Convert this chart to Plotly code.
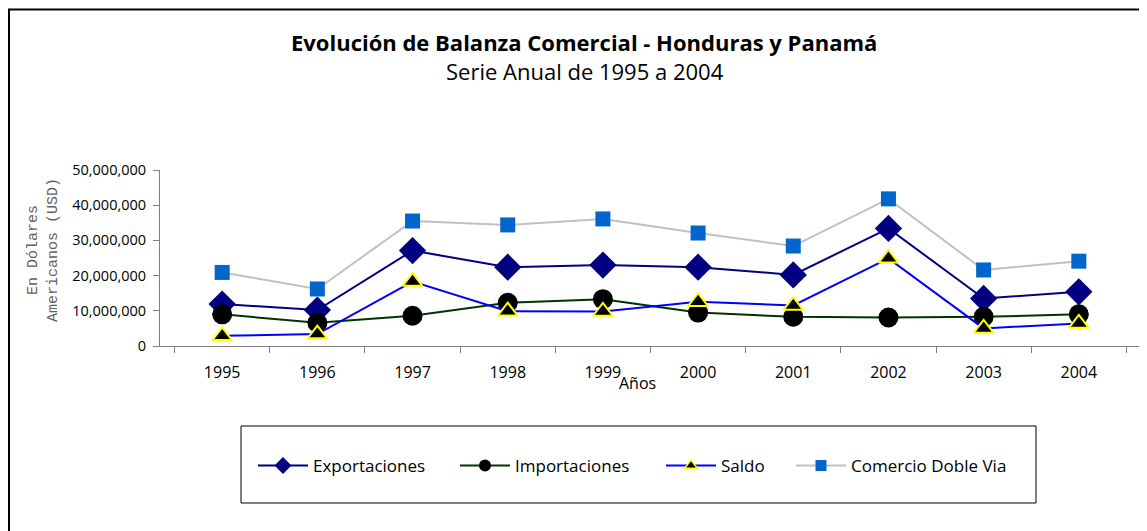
import plotly.graph_objects as go

years = ["1995", "1996", "1997", "1998", "1999", "2000", "2001", "2002", "2003", "2004"]
exportaciones = [11.9e6, 10.2e6, 27.1e6, 22.4e6, 23.0e6, 22.4e6, 20.2e6, 33.4e6, 13.5e6, 15.4e6]
importaciones = [9.0e6, 6.6e6, 8.6e6, 12.3e6, 13.3e6, 9.5e6, 8.3e6, 8.1e6, 8.3e6, 9.0e6]
saldo = [2.9e6, 3.4e6, 18.3e6, 9.9e6, 9.8e6, 12.6e6, 11.5e6, 24.9e6, 5.0e6, 6.4e6]
comercio = [20.9e6, 16.2e6, 35.5e6, 34.4e6, 36.1e6, 32.1e6, 28.4e6, 41.8e6, 21.6e6, 24.1e6]

OFF = 8  # page body margin
W, H = 1147 - OFF, 531 - OFF
# plot area in reference page pixels: x 160..1141, y 170..346
PX0, PX1, PY0, PY1 = 160, 1141, 170, 346
L, R, T, B = PX0 - OFF, W - (PX1 - OFF), PY0 - OFF, H - (PY1 - OFF)
FONT = "Open Sans"
PW, PH = PX1 - PX0, PY1 - PY0


def fx(p):  # reference page x -> paper coords
    return (p - PX0) / PW


def fy(p):  # reference page y -> paper coords
    return (PY1 - p) / PH


series = [
    ("Exportaciones", exportaciones, "#000080", dict(symbol="diamond", size=21, color="#000080"),
     dict(symbol="diamond", size=13, color="#000080"), "legend"),
    ("Importaciones", importaciones, "#003300", dict(symbol="circle", size=20, color="#000000"),
     dict(symbol="circle", size=12, color="#000000"), "legend2"),
    ("Saldo", saldo, "#0000FF", dict(symbol="triangle-up", size=17, color="#000000",
                                     line=dict(color="#FFFF00", width=2)),
     dict(symbol="triangle-up", size=11, color="#000000", line=dict(color="#FFFF00", width=1.5)), "legend3"),
    ("Comercio Doble Via", comercio, "#C0C0C0", dict(symbol="square", size=15, color="#0066CC"),
     dict(symbol="square", size=11, color="#0066CC"), "legend4"),
]

fig = go.Figure()
for name, vals, color, mk, mk_leg, lg in series:
    fig.add_trace(go.Scatter(x=years, y=vals, name=name, mode="lines+markers",
                             line=dict(color=color, width=2), marker=mk, showlegend=False))
    fig.add_trace(go.Scatter(x=[None], y=[None], name=name, mode="lines+markers",
                             line=dict(color=color, width=2), marker=mk_leg,
                             legend=lg, showlegend=True, hoverinfo="skip"))


def leg(line_start):
    return dict(orientation="h", x=fx(line_start - 6), xanchor="left",
                y=fy(466), yanchor="middle",
                font=dict(family=FONT, size=17, color="black"),
                bgcolor="rgba(0,0,0,0)", borderwidth=0,
                itemwidth=50)


fig.update_layout(
    width=W, height=H,
    margin=dict(l=L, r=R, t=T, b=B, pad=0),
    paper_bgcolor="white", plot_bgcolor="white",
    font=dict(family=FONT, size=13, color="black"),
    showlegend=True,
    legend=leg(259), legend2=leg(461), legend3=leg(667), legend4=leg(797),
    xaxis=dict(type="category", showgrid=False, showline=True, linecolor="#808080", linewidth=1,
               ticks="outside", tickson="boundaries", ticklen=6, tickcolor="#808080",
               ticklabelstandoff=12,
               tickfont=dict(family=FONT, size=16), zeroline=False, fixedrange=True),
    yaxis=dict(range=[0, 50e6], dtick=10e6, tickformat=",d", showgrid=False, showline=True,
               linecolor="#808080", linewidth=1, ticks="outside", ticklen=6, tickcolor="#808080",
               ticklabelstandoff=4,
               tickfont=dict(family=FONT, size=14.5), zeroline=False, fixedrange=True),
    shapes=[
        dict(type="rect", xref="paper", yref="paper",
             x0=fx(9), x1=fx(1200), y0=fy(600), y1=fy(9.5),
             line=dict(color="black", width=2), fillcolor="rgba(0,0,0,0)", layer="below"),
        dict(type="rect", xref="paper", yref="paper",
             x0=fx(241), x1=fx(1036), y0=fy(503), y1=fy(426),
             line=dict(color="black", width=1), fillcolor="rgba(0,0,0,0)"),
    ],
    annotations=[
        dict(text="<b>Evolución de Balanza Comercial - Honduras y Panamá</b>", xref="paper", yref="paper",
             x=fx(584), y=fy(42), xanchor="center", yanchor="middle",
             showarrow=False, font=dict(family=FONT, size=22, color="black")),
        dict(text="Serie Anual de 1995 a 2004", xref="paper", yref="paper",
             x=fx(585), y=fy(71), xanchor="center", yanchor="middle",
             showarrow=False, font=dict(family=FONT, size=22, color="black")),
        dict(text="En Dólares<br>Americanos (USD)", xref="paper", yref="paper",
             x=fx(43), y=fy(250), xanchor="center", yanchor="middle",
             textangle=-90, showarrow=False,
             font=dict(family="Liberation Mono", size=15, color="#606060")),
        dict(text="Años", xref="paper", yref="paper",
             x=fx(637), y=fy(383), xanchor="center", yanchor="middle",
             showarrow=False, font=dict(family=FONT, size=16, color="black")),
    ],
)

fig.write_html("out.html")
